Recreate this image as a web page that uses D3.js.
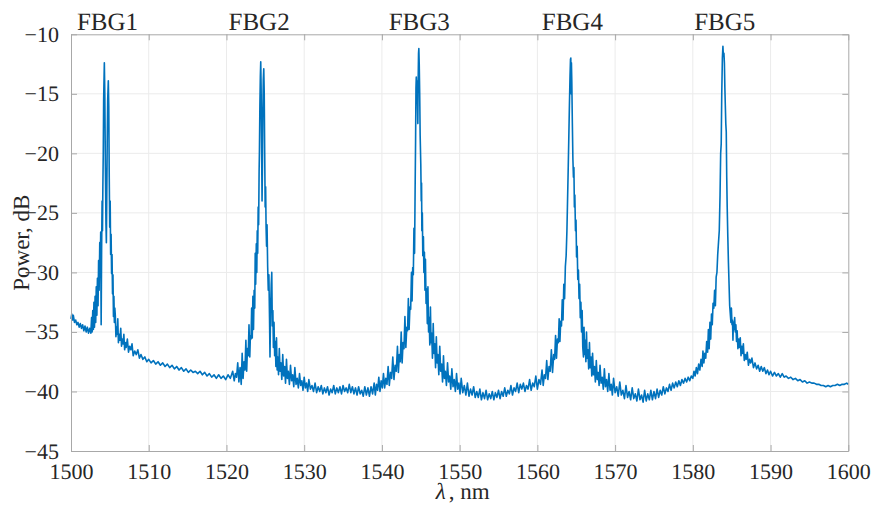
<!DOCTYPE html>
<html>
<head>
<meta charset="utf-8">
<script src="https://cdn.jsdelivr.net/npm/d3@7/dist/d3.min.js"></script>
<style>
    body { margin: 0; background: #fff; }
    svg text { font-family: "Liberation Serif", "DejaVu Serif", "Times New Roman", serif; fill: #262626; }
</style>
</head>
<body>
<div id="chart"></div>
<script>
/** Reflection spectrum of five FBGs, power vs wavelength. */

var SERIF = "'Liberation Serif', 'DejaVu Serif', 'Times New Roman', serif";

// tick labels
var xTicks = [1500, 1510, 1520, 1530, 1540, 1550, 1560, 1570, 1580, 1590, 1600];
var yTicks = [-45, -40, -35, -30, -25, -20, -15, -10];

// grating names and where their labels sit (nm)
var fbgNames = ["FBG1", "FBG2", "FBG3", "FBG4", "FBG5"];
var fbgCenters = [1504.7, 1524.2, 1544.8, 1564.5, 1584.1];

// spectrum: [wavelength nm, power dB]
var band1 = [
    [1500.0,-33.9],[1500.1,-33.5],[1500.2,-34.0],[1500.3,-33.6],[1500.45,-34.2],[1500.6,-34.0],
    [1500.75,-34.4],[1500.9,-34.2],[1501.05,-34.6],[1501.2,-34.3],[1501.35,-34.7],[1501.5,-34.4],
    [1501.65,-34.9],[1501.8,-34.5],[1501.95,-35.0],[1502.1,-34.6],[1502.25,-35.1],[1502.4,-34.7],
    [1502.55,-35.1],[1502.65,-33.8],[1502.72,-35.0],[1502.8,-33.2],[1502.88,-34.8],[1502.95,-32.5],
    [1503.02,-34.6],[1503.1,-32.0],[1503.18,-34.2],[1503.25,-31.2],[1503.33,-33.6],[1503.4,-30.5],
    [1503.48,-32.8],[1503.55,-29.0],[1503.62,-31.5],[1503.7,-27.5],[1503.76,-30.0],[1503.82,-26.6],
    [1503.88,-34.4],[1503.94,-28.0],[1504.0,-24.0],[1504.05,-26.5],[1504.1,-22.8],[1504.15,-20.0],
    [1504.2,-15.5],[1504.29,-12.4],[1504.35,-15.0],[1504.42,-21.0],[1504.5,-26.0],[1504.55,-27.5],
    [1504.6,-24.0],[1504.66,-19.0],[1504.72,-15.5],[1504.8,-13.9],[1504.86,-16.0],[1504.92,-22.0],
    [1504.98,-26.2],[1505.04,-24.0],[1505.1,-28.5],[1505.16,-26.8],[1505.22,-30.1],[1505.28,-28.5],
    [1505.34,-31.8],[1505.4,-30.2],[1505.46,-33.7],[1505.52,-32.0],[1505.58,-34.2],[1505.64,-33.0],
    [1505.7,-33.6],[1505.78,-35.4],[1505.86,-34.6],[1505.94,-35.2],[1506.02,-33.9],[1506.1,-35.9],
    [1506.2,-35.2],[1506.3,-35.7],[1506.4,-34.7],[1506.5,-36.2],[1506.6,-35.6],[1506.7,-36.0],
    [1506.8,-35.2],[1506.9,-36.5],[1507.0,-35.9],[1507.1,-36.3],[1507.25,-35.6],[1507.4,-36.7],
    [1507.55,-36.2],[1507.7,-36.5],[1507.85,-36.0],[1508.0,-37.0],[1508.2,-36.6],[1508.4,-36.9],
    [1508.6,-36.5],[1508.8,-37.2],[1509.0,-36.9],[1509.25,-37.3],[1509.5,-37.1],[1509.75,-37.5],
    [1510.0,-37.3],[1510.3,-37.6],[1510.6,-37.4],[1510.9,-37.7],[1511.2,-37.5],[1511.5,-37.8],
    [1511.8,-37.6],[1512.1,-37.9],[1512.4,-37.7],[1512.7,-38.0],[1513.0,-37.8],[1513.3,-38.1],
    [1513.6,-37.9],[1513.9,-38.2],[1514.2,-38.0],[1514.5,-38.3],[1514.8,-38.1],[1515.1,-38.4],
    [1515.4,-38.2],[1515.7,-38.4],[1516.0,-38.3],[1516.3,-38.5],[1516.6,-38.3],[1516.9,-38.6],
    [1517.2,-38.4],[1517.5,-38.7],[1517.8,-38.5],[1518.1,-38.8],[1518.4,-38.6],[1518.7,-38.9],
    [1519.0,-38.6],[1519.3,-38.9],[1519.6,-38.7],[1519.9,-39.0],[1520.2,-38.6],[1520.5,-38.9]
];

var band2 = [
    [1520.8,-38.3],[1521.0,-39.1],[1521.15,-38.5],[1521.3,-38.8],[1521.45,-37.6],[1521.6,-39.2],
    [1521.75,-38.0],[1521.9,-39.4],[1522.02,-36.8],[1522.14,-38.9],[1522.26,-37.5],[1522.38,-38.2],
    [1522.5,-35.7],[1522.6,-38.3],[1522.7,-36.4],[1522.8,-37.0],[1522.9,-34.4],[1523.0,-37.1],
    [1523.08,-35.3],[1523.16,-35.6],[1523.24,-33.0],[1523.32,-35.5],[1523.4,-32.0],[1523.48,-34.8],
    [1523.56,-31.5],[1523.64,-33.0],[1523.7,-28.4],[1523.76,-31.0],[1523.84,-27.6],[1523.9,-30.0],
    [1523.96,-26.5],[1524.02,-28.4],[1524.08,-24.5],[1524.14,-26.0],[1524.2,-21.5],[1524.24,-19.9],
    [1524.3,-16.0],[1524.36,-13.5],[1524.41,-12.3],[1524.46,-14.5],[1524.52,-19.5],[1524.58,-24.0],
    [1524.63,-21.0],[1524.68,-16.5],[1524.74,-13.8],[1524.8,-12.9],[1524.86,-15.0],[1524.92,-20.0],
    [1524.98,-24.5],[1525.04,-22.8],[1525.1,-26.3],[1525.16,-27.8],[1525.22,-26.0],[1525.3,-29.5],
    [1525.38,-31.5],[1525.46,-30.2],[1525.54,-33.8],[1525.6,-37.1],[1525.68,-33.0],[1525.76,-31.0],
    [1525.83,-30.0],[1525.9,-34.5],[1525.97,-33.2],[1526.04,-36.3],[1526.12,-34.2],[1526.2,-37.0],
    [1526.28,-35.8],[1526.36,-37.9],[1526.44,-35.5],[1526.52,-38.2],[1526.6,-37.1],[1526.7,-38.6],
    [1526.8,-36.4],[1526.9,-38.3],[1527.0,-37.6],[1527.12,-39.0],[1527.24,-36.9],[1527.36,-38.7],
    [1527.48,-37.9],[1527.6,-39.3],[1527.72,-37.3],[1527.84,-38.9],[1527.96,-38.3],[1528.1,-39.4],
    [1528.24,-37.8],[1528.38,-39.1],[1528.52,-38.6],[1528.66,-39.6],[1528.8,-38.0],[1528.95,-39.4],
    [1529.1,-38.9],[1529.25,-39.7],[1529.4,-38.5],[1529.55,-39.5],[1529.7,-39.1],[1529.85,-39.9],
    [1530.0,-38.8],[1530.15,-39.7],[1530.3,-39.3],[1530.45,-40.0],[1530.6,-39.0],[1530.8,-39.8],
    [1531.0,-39.5],[1531.2,-40.0],[1531.4,-39.3],[1531.6,-40.1],[1531.8,-39.6],[1532.0,-40.0],
    [1532.2,-39.5],[1532.4,-40.2],[1532.6,-39.7],[1532.8,-40.1],[1533.0,-39.6],[1533.2,-40.3],
    [1533.4,-39.8],[1533.6,-40.1],[1533.8,-39.5],[1534.0,-40.2],[1534.2,-39.7],[1534.4,-40.1],
    [1534.6,-39.6],[1534.8,-40.2],[1535.0,-39.5],[1535.2,-40.0],[1535.4,-39.7],[1535.6,-40.1],
    [1535.8,-39.4],[1536.0,-40.1],[1536.2,-39.6],[1536.4,-40.2],[1536.6,-39.7],[1536.8,-40.3],
    [1537.0,-39.6],[1537.2,-40.2],[1537.4,-39.9],[1537.6,-40.4],[1537.8,-39.6],[1538.0,-40.3],
    [1538.2,-39.7],[1538.4,-40.4],[1538.6,-39.6],[1538.8,-40.2],[1539.0,-39.3],[1539.15,-40.3],
    [1539.3,-39.4],[1539.45,-39.9],[1539.6,-38.8],[1539.75,-40.0],[1539.9,-39.1],[1540.05,-39.7]
];

var band3 = [
    [1540.2,-38.5],[1540.35,-39.7],[1540.5,-38.9],[1540.65,-39.4],[1540.8,-37.9],[1540.95,-39.5],
    [1541.1,-38.4],[1541.25,-38.9],[1541.4,-37.1],[1541.55,-39.0],[1541.7,-37.8],[1541.85,-38.3],
    [1542.0,-36.2],[1542.12,-38.4],[1542.24,-36.9],[1542.36,-37.5],[1542.48,-35.0],[1542.6,-37.6],
    [1542.72,-35.9],[1542.84,-36.4],[1542.96,-33.7],[1543.08,-36.3],[1543.2,-34.6],[1543.3,-34.9],
    [1543.4,-32.2],[1543.5,-34.8],[1543.6,-32.9],[1543.7,-33.1],[1543.8,-30.0],[1543.88,-32.4],
    [1543.96,-29.6],[1544.04,-30.2],[1544.12,-26.3],[1544.2,-28.4],[1544.27,-23.1],[1544.33,-19.0],
    [1544.38,-14.5],[1544.42,-13.6],[1544.48,-14.8],[1544.53,-13.9],[1544.58,-16.0],[1544.62,-17.5],
    [1544.66,-14.0],[1544.71,-11.6],[1544.75,-11.2],[1544.8,-12.5],[1544.86,-15.0],[1544.92,-18.5],
    [1545.0,-20.9],[1545.06,-24.0],[1545.1,-22.5],[1545.14,-26.5],[1545.2,-25.0],[1545.26,-28.6],
    [1545.34,-27.0],[1545.4,-30.0],[1545.47,-28.3],[1545.54,-31.5],[1545.6,-28.9],[1545.68,-32.6],
    [1545.76,-31.4],[1545.84,-34.3],[1545.92,-31.2],[1546.0,-35.0],[1546.08,-33.8],[1546.16,-36.1],
    [1546.24,-32.9],[1546.32,-35.9],[1546.4,-35.1],[1546.5,-37.2],[1546.6,-34.3],[1546.7,-36.8],
    [1546.8,-36.0],[1546.9,-38.0],[1547.0,-35.4],[1547.1,-37.6],[1547.2,-36.9],[1547.32,-38.6],
    [1547.44,-36.2],[1547.56,-38.3],[1547.68,-37.7],[1547.8,-39.2],[1547.92,-37.0],[1548.04,-38.9],
    [1548.16,-38.3],[1548.3,-39.5],[1548.44,-37.6],[1548.58,-39.2],[1548.72,-38.7],[1548.86,-39.8],
    [1549.0,-38.1],[1549.15,-39.6],[1549.3,-39.0],[1549.45,-40.0],[1549.6,-38.5],[1549.75,-39.8],
    [1549.9,-39.3],[1550.05,-40.2],[1550.2,-38.9],[1550.4,-40.1],[1550.6,-39.5],[1550.8,-40.3],
    [1551.0,-39.3],[1551.2,-40.4],[1551.4,-39.8],[1551.6,-40.3],[1551.8,-39.6],[1552.0,-40.5],
    [1552.2,-40.0],[1552.4,-40.5],[1552.6,-39.8],[1552.8,-40.7],[1553.0,-40.1],[1553.2,-40.6],
    [1553.4,-39.9],[1553.6,-40.7],[1553.8,-40.2],[1554.0,-40.6],[1554.2,-40.0],[1554.4,-40.7],
    [1554.6,-40.1],[1554.8,-40.5],[1555.0,-39.9],[1555.2,-40.6],[1555.4,-40.0],[1555.6,-40.4],
    [1555.8,-39.7],[1556.0,-40.4],[1556.2,-39.9],[1556.4,-40.2],[1556.6,-39.5],[1556.8,-40.3],
    [1557.0,-39.7],[1557.2,-40.0],[1557.4,-39.3],[1557.6,-40.1],[1557.8,-39.4],[1558.0,-39.8]
];

var band4 = [
    [1558.2,-39.3],[1558.4,-40.0],[1558.6,-39.5],[1558.8,-39.8],[1559.0,-39.0],[1559.2,-39.9],
    [1559.4,-39.3],[1559.6,-39.6],[1559.8,-38.7],[1560.0,-39.8],[1560.2,-39.0],[1560.4,-39.4],
    [1560.6,-38.2],[1560.75,-39.5],[1560.9,-38.6],[1561.05,-38.9],[1561.2,-37.4],[1561.35,-39.0],
    [1561.5,-37.9],[1561.65,-38.3],[1561.8,-36.5],[1561.95,-38.4],[1562.1,-36.9],[1562.22,-37.3],
    [1562.34,-35.3],[1562.46,-37.2],[1562.58,-35.6],[1562.7,-35.9],[1562.8,-33.9],[1562.9,-35.8],
    [1563.0,-34.1],[1563.1,-34.5],[1563.2,-32.3],[1563.3,-34.0],[1563.4,-31.0],[1563.5,-32.2],
    [1563.6,-29.5],[1563.7,-28.6],[1563.8,-26.5],[1563.88,-24.0],[1563.96,-21.5],[1564.04,-18.8],
    [1564.12,-16.0],[1564.2,-13.5],[1564.26,-12.1],[1564.3,-12.0],[1564.34,-15.0],[1564.38,-12.4],
    [1564.43,-14.0],[1564.5,-17.5],[1564.57,-20.5],[1564.64,-22.0],[1564.7,-21.2],[1564.76,-24.5],
    [1564.82,-23.5],[1564.9,-26.5],[1564.97,-25.6],[1565.04,-28.7],[1565.12,-27.8],[1565.2,-30.6],
    [1565.28,-29.8],[1565.36,-32.2],[1565.44,-31.0],[1565.52,-33.8],[1565.6,-32.5],[1565.68,-35.0],
    [1565.76,-33.2],[1565.84,-36.3],[1565.93,-37.1],[1566.0,-34.6],[1566.08,-36.9],[1566.16,-35.7],
    [1566.24,-37.5],[1566.32,-35.0],[1566.4,-37.2],[1566.5,-36.5],[1566.6,-38.1],[1566.7,-35.9],
    [1566.8,-38.0],[1566.9,-37.1],[1567.0,-38.7],[1567.1,-36.8],[1567.22,-38.6],[1567.34,-37.9],
    [1567.46,-39.2],[1567.58,-37.4],[1567.7,-39.0],[1567.82,-38.4],[1567.94,-39.5],[1568.06,-37.8],
    [1568.2,-39.3],[1568.34,-38.8],[1568.48,-39.8],[1568.62,-38.1],[1568.76,-39.6],[1568.9,-39.0],
    [1569.05,-40.0],[1569.2,-38.5],[1569.35,-39.9],[1569.5,-39.4],[1569.65,-40.3],[1569.8,-38.9],
    [1570.0,-40.1],[1570.2,-39.6],[1570.4,-40.4],[1570.6,-39.2],[1570.8,-40.3],[1571.0,-39.9],
    [1571.2,-40.6],[1571.4,-39.5],[1571.6,-40.5],[1571.8,-40.0],[1572.0,-40.7],[1572.2,-39.7],
    [1572.4,-40.6],[1572.6,-40.2],[1572.8,-40.8],[1573.0,-39.8],[1573.2,-40.7],[1573.4,-40.3],
    [1573.6,-40.9],[1573.8,-39.9],[1574.0,-40.8],[1574.2,-40.2],[1574.4,-40.7],[1574.6,-39.9],
    [1574.8,-40.7],[1575.0,-40.0],[1575.2,-40.6],[1575.4,-39.8],[1575.6,-40.5],[1575.8,-39.9],
    [1576.0,-40.3],[1576.2,-39.6],[1576.4,-40.2],[1576.6,-39.7],[1576.8,-40.0],[1577.0,-39.4],
    [1577.2,-39.9],[1577.4,-39.3],[1577.6,-39.7],[1577.8,-39.2],[1578.0,-39.6],[1578.2,-39.1],
    [1578.4,-39.5],[1578.6,-39.0],[1578.8,-39.3],[1579.0,-38.9],[1579.2,-39.2],[1579.4,-38.8],
    [1579.6,-39.1],[1579.8,-38.7],[1580.0,-38.9]
];

var band5 = [
    [1580.15,-38.3],[1580.3,-38.7],[1580.45,-38.0],[1580.6,-38.5],[1580.75,-37.7],[1580.9,-38.2],
    [1581.05,-37.3],[1581.2,-37.9],[1581.3,-36.6],[1581.42,-37.6],[1581.54,-36.8],[1581.66,-37.2],
    [1581.78,-35.8],[1581.9,-36.7],[1582.0,-34.8],[1582.1,-36.4],[1582.2,-34.2],[1582.3,-35.6],
    [1582.4,-33.5],[1582.5,-34.4],[1582.6,-32.6],[1582.7,-33.0],[1582.8,-31.5],[1582.9,-32.8],
    [1583.0,-30.4],[1583.1,-30.0],[1583.2,-28.5],[1583.3,-27.5],[1583.4,-26.5],[1583.5,-23.5],
    [1583.58,-20.0],[1583.65,-19.2],[1583.72,-15.0],[1583.8,-12.0],[1583.87,-11.0],[1583.93,-11.8],
    [1584.0,-11.6],[1584.06,-12.4],[1584.12,-14.5],[1584.18,-16.0],[1584.24,-17.5],[1584.3,-18.2],
    [1584.36,-22.0],[1584.42,-24.5],[1584.5,-27.0],[1584.58,-29.2],[1584.66,-31.0],[1584.74,-32.8],
    [1584.82,-33.5],[1584.9,-34.2],[1584.96,-33.0],[1585.04,-34.4],[1585.1,-34.0],[1585.16,-35.7],
    [1585.22,-34.2],[1585.3,-34.8],[1585.38,-33.8],[1585.46,-35.0],[1585.54,-34.4],[1585.62,-35.8],
    [1585.7,-34.9],[1585.8,-36.4],[1585.9,-35.6],[1586.0,-36.3],[1586.1,-35.5],[1586.2,-37.0],
    [1586.3,-36.2],[1586.4,-36.8],[1586.5,-36.0],[1586.62,-37.4],[1586.74,-36.9],[1586.86,-37.3],
    [1587.0,-36.7],[1587.15,-37.8],[1587.3,-37.3],[1587.45,-37.6],[1587.6,-37.2],[1587.8,-38.0],
    [1588.0,-37.6],[1588.2,-38.1],[1588.4,-37.8],[1588.6,-38.3],[1588.8,-37.9],[1589.0,-38.3],
    [1589.2,-38.0],[1589.4,-38.5],[1589.6,-38.2],[1589.8,-38.6],[1590.0,-38.3],[1590.25,-38.7],
    [1590.5,-38.4],[1590.75,-38.7],[1591.0,-38.5],[1591.25,-38.8],[1591.5,-38.5],[1591.75,-38.8],
    [1592.0,-38.7],[1592.3,-38.9],[1592.6,-38.8],[1592.9,-39.0],[1593.2,-38.9],[1593.5,-39.1],
    [1593.8,-39.0],[1594.1,-39.2],[1594.4,-39.1],[1594.7,-39.3],[1595.0,-39.2],[1595.3,-39.3],
    [1595.6,-39.3],[1595.9,-39.4],[1596.2,-39.4],[1596.5,-39.5],[1596.8,-39.5],[1597.1,-39.6],
    [1597.4,-39.5],[1597.7,-39.6],[1598.0,-39.5],[1598.3,-39.5],[1598.6,-39.4],[1598.9,-39.5],
    [1599.2,-39.4],[1599.5,-39.4],[1599.8,-39.3],[1600.0,-39.4]
];

function drawSpectrum(elemID) {
    var width = 874, height = 511;
    var margin = {top: 34.3, left: 71, right: 25.7, bottom: 60};
    var plotW = width - margin.left - margin.right;
    var plotH = height - margin.top - margin.bottom;

    var data = band1.concat(band2, band3, band4, band5);

    var svg = d3.select(elemID).append("svg")
        .attr("width", width)
        .attr("height", height)
        .attr("font-family", SERIF)
        .attr("text-rendering", "geometricPrecision");

    var xScale = d3.scaleLinear().domain([1500, 1600]).range([0, plotW]);
    var yScale = d3.scaleLinear().domain([-45, -10]).range([plotH, 0]);

    var g = svg.append("g")
        .attr("transform", "translate(" + margin.left + "," + margin.top + ")");

    // grid lines
    g.append("g").selectAll("line")
        .data(xTicks.slice(1, -1)).enter()
        .append("line")
            .attr("x1", function(d) {return xScale(d);})
            .attr("x2", function(d) {return xScale(d);})
            .attr("y1", 0).attr("y2", plotH)
            .attr("stroke", "#ebebeb").attr("stroke-width", 1);
    g.append("g").selectAll("line")
        .data(yTicks.slice(1, -1)).enter()
        .append("line")
            .attr("y1", function(d) {return yScale(d);})
            .attr("y2", function(d) {return yScale(d);})
            .attr("x1", 0).attr("x2", plotW)
            .attr("stroke", "#ebebeb").attr("stroke-width", 1);

    // the spectrum
    var line = d3.line()
        .x(function(d) {return xScale(d[0]);})
        .y(function(d) {return yScale(d[1]);});

    g.append("path")
        .datum(data)
        .attr("d", line)
        .attr("fill", "none")
        .attr("stroke", "#0072BD")
        .attr("stroke-width", 1.6)
        .attr("stroke-linejoin", "round");

    // axes, ticks pointing inward like MATLAB
    var tickLen = 6;
    function styleAxis(sel) {
        sel.attr("font-family", SERIF);
        sel.select(".domain").attr("stroke", "#a8a8a8");
        sel.selectAll(".tick line").attr("stroke", "#a8a8a8");
        sel.selectAll(".tick text")
            .attr("font-size", "22px")
            .attr("fill", "#262626")
            .style("font-family", SERIF);
    }

    g.append("g")
        .attr("transform", "translate(0," + plotH + ")")
        .call(d3.axisBottom(xScale).tickValues(xTicks).tickSizeInner(-tickLen)
            .tickSizeOuter(0).tickPadding(tickLen + 6).tickFormat(d3.format("d")))
        .call(styleAxis);
    g.append("g")
        .call(d3.axisTop(xScale).tickValues(xTicks).tickSizeInner(-tickLen)
            .tickSizeOuter(0).tickFormat(""))
        .call(styleAxis);
    g.append("g")
        .call(d3.axisLeft(yScale).tickValues(yTicks).tickSizeInner(-tickLen)
            .tickSizeOuter(0).tickPadding(tickLen + 6).tickFormat(d3.format("d")))
        .call(styleAxis);
    g.append("g")
        .attr("transform", "translate(" + plotW + ",0)")
        .call(d3.axisRight(yScale).tickValues(yTicks).tickSizeInner(-tickLen)
            .tickSizeOuter(0).tickFormat(""))
        .call(styleAxis);

    // grating labels above the box
    g.selectAll(".fbg-label")
        .data(fbgNames).enter()
        .append("text")
            .attr("class", "fbg-label")
            .attr("x", function(d, i) {return xScale(fbgCenters[i]);})
            .attr("y", -4)
            .attr("text-anchor", "middle")
            .attr("font-size", "25px")
            .style("font-family", SERIF)
            .text(function(d) {return d;});

    // axis titles; the italic lambda is its own text so it does not overlap
    g.append("text")
        .attr("x", plotW / 2 - 14)
        .attr("y", plotH + 48)
        .attr("text-anchor", "end")
        .attr("font-size", "23px")
        .attr("font-style", "italic")
        .style("font-family", SERIF)
        .text("λ");
    g.append("text")
        .attr("x", plotW / 2 - 11)
        .attr("y", plotH + 48)
        .attr("text-anchor", "start")
        .attr("font-size", "23px")
        .style("font-family", SERIF)
        .text(", nm");

    g.append("text")
        .attr("transform", "translate(" + (-42) + "," + (plotH / 2) + ") rotate(-90)")
        .attr("text-anchor", "middle")
        .attr("font-size", "23px")
        .style("font-family", SERIF)
        .text("Power, dB");
}

drawSpectrum("#chart");
</script>
</body>
</html>
